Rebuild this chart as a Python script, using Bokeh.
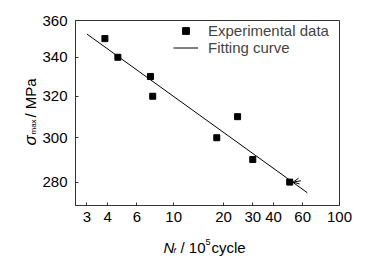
from math import pi
from bokeh.plotting import figure
from bokeh.layouts import column, row
from bokeh.models import (FixedTicker, PrintfTickFormatter, Label, Legend, LegendItem,
                          Arrow, OpenHead, Range1d)
from bokeh.embed import file_html
from bokeh.resources import INLINE

# ---- data ----
cycles = [3.85, 4.61, 7.25, 7.48, 18.2, 24.3, 30.0, 50.1]
stress = [350, 340, 330, 320, 300, 310, 290, 280]
fit_cycles = [3.0, 64.0]
fit_stress = [352.5, 275.4]
runout_cycles = [58.5, 52.6]
runout_stress = [280.6, 280.0]
x_ticks = [3, 4, 6, 10, 20, 30, 40, 60, 100]
y_ticks = [280, 300, 320, 340, 360]

FONT = "Liberation Sans"
W, H = 369, 260
YT_W = 38      # width of the strip holding the y title
XT_H = 28      # height of the strip holding the x title
MAIN_H = H - XT_H

p = figure(width=W - YT_W, height=MAIN_H, x_axis_type="log", y_axis_type="log",
           x_range=Range1d(2.56, 100.0), y_range=Range1d(270.0, 360.0),
           output_backend="svg", toolbar_location=None,
           min_border_left=75 - YT_W, min_border_right=30, min_border_top=20,
           min_border_bottom=MAIN_H - 205)
p.grid.visible = False
p.outline_line_color = "#333333"
p.outline_line_width = 1
p.background_fill_color = "white"
p.border_fill_color = "white"

for ax, ticks, standoff in ((p.xaxis, x_ticks, 6), (p.yaxis, y_ticks, 8)):
    ax.ticker = FixedTicker(ticks=ticks, minor_ticks=[])
    ax.formatter = PrintfTickFormatter(format="%d")
    ax.major_tick_in = 3
    ax.major_tick_out = 0
    ax.minor_tick_in = 0
    ax.minor_tick_out = 0
    ax.axis_line_color = "#333333"
    ax.major_tick_line_color = "#333333"
    ax.major_label_text_font = FONT
    ax.major_label_text_font_size = "15px"
    ax.major_label_text_color = "black"
    ax.major_label_standoff = standoff

line_r = p.line(fit_cycles, fit_stress, line_color="black", line_width=1)
pts_r = p.scatter(cycles, stress, marker="square", size=6, fill_color="black",
                  line_color="black")
p.add_layout(Arrow(x_start=runout_cycles[0], y_start=runout_stress[0],
                   x_end=runout_cycles[1], y_end=runout_stress[1],
                   line_width=1, line_color="black",
                   end=OpenHead(size=6, line_width=1, line_color="black")))

legend = Legend(items=[LegendItem(label="Experimental data", renderers=[pts_r]),
                       LegendItem(label="Fitting curve", renderers=[line_r])],
                location=(98, 149.5), padding=5, margin=0, spacing=0,
                border_line_color=None, background_fill_alpha=0,
                label_text_font=FONT, label_text_font_size="15px",
                glyph_width=25, glyph_height=17, label_height=17, label_standoff=10)
p.add_layout(legend)


def strip(width, height):
    f = figure(width=width, height=height, x_axis_type=None, y_axis_type=None,
               x_range=Range1d(0, 1), y_range=Range1d(0, 1),
               output_backend="svg", toolbar_location=None,
               min_border=0, min_border_left=0, min_border_right=0,
               min_border_top=0, min_border_bottom=0)
    f.grid.visible = False
    f.outline_line_color = None
    f.background_fill_color = "white"
    f.border_fill_color = "white"
    return f


def lab(text, cx, cy, size, style="normal", angle=0):
    return Label(x=cx, y=cy, x_units="canvas", y_units="canvas", text=text,
                 text_font=FONT, text_font_size=f"{size}px", text_font_style=style,
                 angle=angle, text_align="left", text_baseline="alphabetic",
                 text_color="black")


# y axis title strip:  sigma_max / MPa (rotated)
yt = strip(YT_W, MAIN_H)
yt.add_layout(lab("σ", 30, 145, 17, "italic", pi / 2))
yt.add_layout(lab("max", 33, 134, 8, "normal", pi / 2))
yt.add_layout(lab("/ MPa", 30, 117, 15, "normal", pi / 2))

# x axis title strip:  N_f / 10^5 cycle
xt = strip(W, XT_H)
oy = MAIN_H
xt.add_layout(lab("N", 163, 247 - oy, 15, "italic"))
xt.add_layout(lab("f", 173, 250 - oy, 8, "italic"))
xt.add_layout(lab("/ 10", 180, 247 - oy, 15))
xt.add_layout(lab("5", 205, 241 - oy, 9))
xt.add_layout(lab("cycle", 211, 247 - oy, 15))

layout = column(row(yt, p, spacing=0), xt, spacing=0)
open("out.html", "w").write(file_html(layout, INLINE))
